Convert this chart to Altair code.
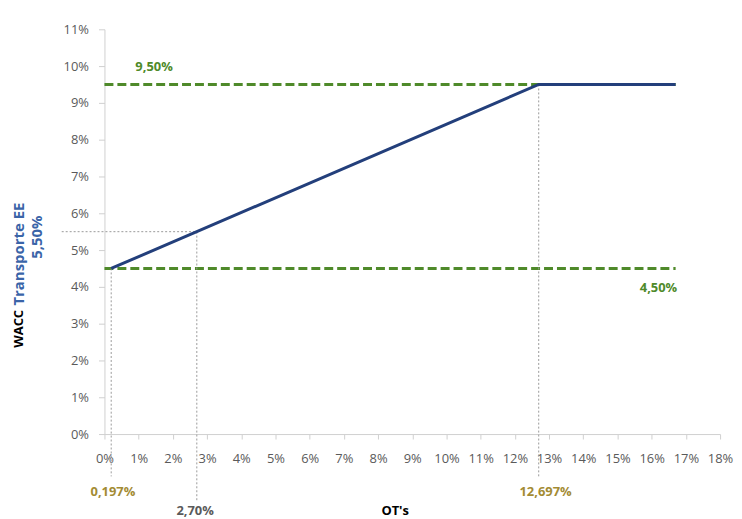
import altair as alt
import pandas as pd

# --- data (in percent units) ---
ot_pct = [0.197, 12.697, 16.7]
wacc_pct = [4.5, 9.5, 9.5]
cap_value = 9.5
floor_value = 4.5
line_end = 16.7
mid_x = 2.70
mid_y = 5.50
x_ticks = list(range(0, 19))
y_ticks = list(range(0, 12))

BLUE = "#233F7B"
GREEN = "#4F8A2A"
GOLD = "#A38B33"
GRAY_TXT = "#5A5A5A"
DOT = "#9A9A9A"
TITLE_BLUE = "#3A64A8"
FONT = "Open Sans"

xs = alt.Scale(domain=[0, 18], nice=False, zero=False)
ys = alt.Scale(domain=[0, 11], nice=False, zero=False)

xaxis = alt.Axis(values=x_ticks, labelExpr="datum.value + '%'", title=None, grid=False,
                 domainColor="#D0D0D0", tickColor="#D0D0D0", tickSize=5,
                 labelColor=GRAY_TXT, labelFontSize=13, labelFont=FONT, labelPadding=14,
                 labelOverlap=False, labelFlush=False)
yaxis = alt.Axis(values=y_ticks, labelExpr="datum.value + '%'", title=None, grid=False,
                 domainColor="#D0D0D0", tickColor="#D0D0D0", tickSize=6,
                 labelColor=GRAY_TXT, labelFontSize=13, labelFont=FONT, labelPadding=10,
                 labelOverlap=False, labelFlush=False)


def X(field):
    return alt.X(field, scale=xs, axis=xaxis)


def Y(field):
    return alt.Y(field, scale=ys, axis=yaxis)


main_df = pd.DataFrame({"x": ot_pct, "y": wacc_pct})

# dashed green limit lines
limits_df = pd.DataFrame({"x": [0, 0], "x2": [line_end, line_end], "y": [cap_value, floor_value]})
limits = alt.Chart(limits_df).mark_rule(color=GREEN, strokeWidth=3, strokeDash=[9, 4]).encode(
    x=X("x:Q"), x2="x2:Q", y=Y("y:Q"))

# dotted gray guides
vguides_df = pd.DataFrame({
    "x": [ot_pct[0], mid_x, ot_pct[1]],
    "y": [floor_value, mid_y, cap_value],
    "y2": [-1.15, -1.8, -1.2]})
vguides = alt.Chart(vguides_df).mark_rule(color=DOT, strokeWidth=1, strokeDash=[2, 2], clip=False).encode(
    x=X("x:Q"), y=Y("y:Q"), y2="y2:Q")
hguide_df = pd.DataFrame({"x": [-1.25], "x2": [mid_x], "y": [mid_y]})
hguide = alt.Chart(hguide_df).mark_rule(color=DOT, strokeWidth=1, strokeDash=[2, 2], clip=False).encode(
    x=X("x:Q"), x2="x2:Q", y=Y("y:Q"))

line = alt.Chart(main_df).mark_line(color=BLUE, strokeWidth=3).encode(
    x=X("x:Q"), y=Y("y:Q"))

# annotations
ann_df = pd.DataFrame({
    "x": [1.45, 16.2, ot_pct[0] + 0.05, mid_x - 0.05, ot_pct[1] + 0.2],
    "y": [9.97, 3.97, -1.57, -2.08, -1.57],
    "t": ["9,50%", "4,50%", "0,197%", "2,70%", "12,697%"],
    "c": [GREEN, GREEN, GOLD, GRAY_TXT, GOLD]})
ann = alt.Chart(ann_df).mark_text(fontSize=13, font=FONT, fontWeight="bold", clip=False).encode(
    x=X("x:Q"), y=Y("y:Q"), text="t:N",
    color=alt.Color("c:N", scale=None))

xtitle = alt.Chart(pd.DataFrame({"x": [8.5], "y": [-2.08], "t": ["OT's"]})).mark_text(
    fontSize=13, font=FONT, fontWeight="bold", color="black", clip=False).encode(
    x=X("x:Q"), y=Y("y:Q"), text="t:N")

# y title pieces: WACC (black) + Transporte EE (blue), and 5,50% marker label
wacc_df = pd.DataFrame({"x": [-2.5], "y": [2.86], "t": ["WACC"]})
wacc = alt.Chart(wacc_df).mark_text(fontSize=13, font=FONT, fontWeight="bold", angle=270,
                                    color="black", clip=False).encode(
    x=X("x:Q"), y=Y("y:Q"), text="t:N")

trans_df = pd.DataFrame({"x": [-2.5, -1.96], "y": [4.89, 5.35], "t": ["Transporte EE", "5,50%"]})
trans = alt.Chart(trans_df).mark_text(fontSize=15, font=FONT, fontWeight="bold", angle=270,
                                      color=TITLE_BLUE, clip=False).encode(
    x=X("x:Q"), y=Y("y:Q"), text="t:N")

chart = alt.layer(limits, vguides, hguide, line, ann, xtitle, wacc, trans).properties(
    width=619, height=407,
    autosize=alt.AutoSizeParams(type="none"),
    padding={"left": 97, "top": 20, "right": 14, "bottom": 84},
    background="white"
).configure_view(stroke=None)

chart.save("out.html", embed_options={"renderer": "svg", "actions": False})
